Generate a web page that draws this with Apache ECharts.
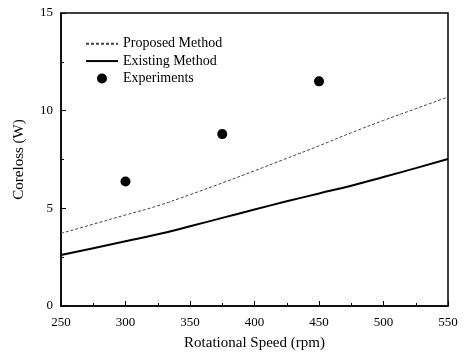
<html>
<head>
    <script src="https://cdn.jsdelivr.net/npm/echarts@6/dist/echarts.min.js"></script>
    <style>
        body { margin: 0; background: #fff; }
        #chart { width: 469px; height: 355px; }
    </style>
</head>
<body>
    <div id="chart"></div>
    <script>
        // rotational speed (rpm) sampled along the curves
        var speeds = [250, 275, 300, 325, 350, 375, 400, 425, 450, 475, 500, 525, 550];
        var proposed = [3.72, 4.19, 4.66, 5.13, 5.7, 6.3, 6.92, 7.56, 8.2, 8.87, 9.5, 10.1, 10.7];
        var existing = [2.61, 2.96, 3.31, 3.67, 4.08, 4.51, 4.94, 5.36, 5.76, 6.16, 6.6, 7.06, 7.53];
        // measured points
        var expSpeeds = [300, 375, 450];
        var expValues = [6.37, 8.8, 11.5];

        function pairs(xs, ys) {
            return xs.map(function (x, i) { return [x, ys[i]]; });
        }

        var font = 'Liberation Serif';
        var myChart = echarts.init(document.getElementById('chart'));
        var option = {
            animation: false,
            textStyle: { fontFamily: font, color: '#000' },
            grid: {
                left: 61, right: 21, top: 13, bottom: 49,
                outerBoundsMode: 'none',
                show: true, borderColor: '#000', borderWidth: 1.5
            },
            legend: {
                orient: 'vertical',
                left: 80, top: 28,
                itemWidth: 32, itemHeight: 10, itemGap: -4,
                textStyle: { fontFamily: font, fontSize: 14, lineHeight: 14, color: '#000' },
                data: [
                    { name: 'Proposed Method', itemStyle: { opacity: 0 } },
                    { name: 'Existing Method', itemStyle: { opacity: 0 } },
                    'Experiments'
                ]
            },
            xAxis: {
                type: 'value', min: 250, max: 550, interval: 50,
                name: 'Rotational Speed (rpm)', nameLocation: 'middle', nameGap: 26,
                nameMoveOverlap: false,
                nameTextStyle: { fontFamily: font, fontSize: 15, color: '#000' },
                axisLine: { lineStyle: { color: '#000', width: 1.5 } },
                axisTick: { inside: true, length: 5, lineStyle: { color: '#000' } },
                minorTick: { show: true, splitNumber: 2, length: 3, lineStyle: { color: '#000' } },
                splitLine: { show: false },
                axisLabel: { fontFamily: font, fontSize: 13, color: '#000', margin: 7 }
            },
            yAxis: {
                type: 'value', min: 0, max: 15, interval: 5,
                name: 'Coreloss (W)', nameLocation: 'middle', nameGap: 30,
                nameMoveOverlap: false,
                nameTextStyle: { fontFamily: font, fontSize: 15, color: '#000' },
                axisLine: { lineStyle: { color: '#000', width: 1.5 } },
                axisTick: { inside: true, length: 5, lineStyle: { color: '#000' } },
                minorTick: { show: true, splitNumber: 2, length: 3, lineStyle: { color: '#000' } },
                splitLine: { show: false },
                axisLabel: { fontFamily: font, fontSize: 13, color: '#000', margin: 8 }
            },
            series: [
                {
                    name: 'Proposed Method',
                    type: 'line',
                    showSymbol: false,
                    smooth: true,
                    data: pairs(speeds, proposed),
                    lineStyle: { color: '#444', width: 1, type: [3, 2] },
                    itemStyle: { color: '#444' }
                },
                {
                    name: 'Existing Method',
                    type: 'line',
                    showSymbol: false,
                    smooth: true,
                    data: pairs(speeds, existing),
                    lineStyle: { color: '#000', width: 2 },
                    itemStyle: { color: '#000' }
                },
                {
                    name: 'Experiments',
                    type: 'scatter',
                    symbol: 'circle',
                    symbolSize: 10,
                    data: pairs(expSpeeds, expValues),
                    itemStyle: { color: '#000', opacity: 1 }
                }
            ]
        };
        myChart.setOption(option);
    </script>
</body>
</html>
